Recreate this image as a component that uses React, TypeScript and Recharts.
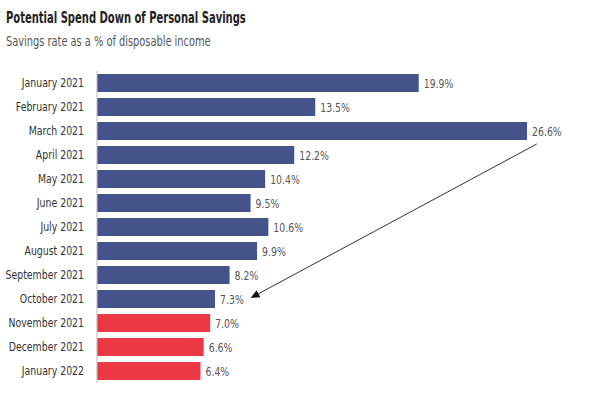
import { BarChart, Bar, XAxis, YAxis, Cell, LabelList, ReferenceLine } from "recharts";

const months = [
  "January 2021",
  "February 2021",
  "March 2021",
  "April 2021",
  "May 2021",
  "June 2021",
  "July 2021",
  "August 2021",
  "September 2021",
  "October 2021",
  "November 2021",
  "December 2021",
  "January 2022",
];

const savingsRate = [19.9, 13.5, 26.6, 12.2, 10.4, 9.5, 10.6, 9.9, 8.2, 7.3, 7.0, 6.6, 6.4];

// months from here on are projections
const projected = ["November 2021", "December 2021", "January 2022"];

const data = months.map((month, i) => ({ month, rate: savingsRate[i] }));

const FONT = '"DejaVu Sans Condensed", "DejaVu Sans", Arial, sans-serif';
const SQUEEZE = 0.8; // fake a condensed face
const BLUE = "#44538a";
const RED = "#ec3845";

function MonthTick(props: any) {
  const { x, y, payload } = props;
  return (
    <text
      transform={`translate(${x},${y}) scale(${SQUEEZE},1)`}
      textAnchor="end"
      dominantBaseline="central"
      fontSize={13}
      fill="#333"
      fontFamily={FONT}
    >
      {payload.value}
    </text>
  );
}

function ValueLabel(props: any) {
  const { x, y, width, height, value } = props;
  return (
    <text
      transform={`translate(${x + width + 5},${y + height / 2 + 1}) scale(${SQUEEZE},1)`}
      dominantBaseline="central"
      fontSize={13}
      fill="#555"
      fontFamily={FONT}
    >
      {`${Number(value).toFixed(1)}%`}
    </text>
  );
}

function ArrowShape(props: any) {
  const { x1, y1, x2, y2 } = props;
  if (x1 == null || y1 == null) return null;
  const sx = x1;
  const sy = y1 + 13;
  const ex = x2;
  const ey = y2 - 1;
  const ang = Math.atan2(ey - sy, ex - sx);
  const len = 9;
  const w = 4;
  const bx = ex - len * Math.cos(ang);
  const by = ey - len * Math.sin(ang);
  const px = -Math.sin(ang) * w;
  const py = Math.cos(ang) * w;
  return (
    <g>
      <line x1={sx} y1={sy} x2={bx} y2={by} stroke="#333" strokeWidth={1} />
      <polygon points={`${ex},${ey} ${bx + px},${by + py} ${bx - px},${by - py}`} fill="#111" />
    </g>
  );
}

export default function App() {
  return (
    <div style={{ position: "absolute", left: 0, top: 0, width: 599, height: 399, background: "#fff", fontFamily: FONT }}>
      <div
        style={{
          position: "absolute",
          left: 6,
          top: 9,
          fontSize: 15,
          fontWeight: 700,
          color: "#222",
          whiteSpace: "nowrap",
          transform: "scaleX(0.74)",
          transformOrigin: "left top",
        }}
      >
        Potential Spend Down of Personal Savings
      </div>
      <div
        style={{
          position: "absolute",
          left: 6,
          top: 33,
          fontSize: 14,
          color: "#555",
          whiteSpace: "nowrap",
          transform: "scaleX(0.78)",
          transformOrigin: "left top",
        }}
      >
        Savings rate as a % of disposable income
      </div>
      <BarChart
        width={599}
        height={399}
        data={data}
        layout="vertical"
        margin={{ top: 71, right: 17, bottom: 16, left: 0 }}
        barCategoryGap={3}
      >
        <XAxis type="number" domain={[0, 30]} hide />
        <YAxis
          type="category"
          dataKey="month"
          width={97}
          tickLine={false}
          axisLine={{ stroke: "#bbb" }}
          tickMargin={7}
          tick={<MonthTick />}
        />
        <Bar dataKey="rate" isAnimationActive={false}>
          {data.map((d) => (
            <Cell key={d.month} fill={projected.includes(d.month) ? RED : BLUE} />
          ))}
          <LabelList dataKey="rate" content={<ValueLabel />} />
        </Bar>
        <ReferenceLine
          segment={[
            { x: 27.2, y: "March 2021" },
            { x: 9.5, y: "October 2021" },
          ]}
          shape={ArrowShape}
          ifOverflow="extendDomain"
        />
      </BarChart>
    </div>
  );
}
